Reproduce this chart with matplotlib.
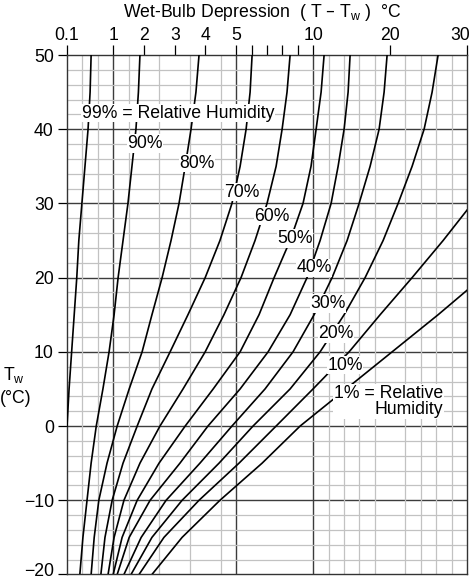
import numpy as np
import matplotlib
matplotlib.use("Agg")
import matplotlib.pyplot as plt
from matplotlib.transforms import ScaledTranslation

plt.rcParams["font.family"] = ["Liberation Sans", "DejaVu Sans"]
plt.rcParams["mathtext.default"] = "regular"

# wet-bulb temperature (degC) where each curve was read
TW = [-20, -15, -10, -5, 0, 5, 10, 15, 20, 25, 30, 35, 40, 45, 50]
TW_99 = [0, 5, 10, 15, 20, 25, 30, 35, 40, 45, 50]
TW_10 = [-20, -15, -10, -5, 0, 5, 10, 15, 20, 25, 29.1]
TW_1 = [-20, -15, -10, -5, 0, 5, 10, 15, 18.3]

# wet-bulb depression T - Tw (degC) along each relative humidity curve
dep_99 = [0.10, 0.14, 0.19, 0.24, 0.29, 0.33, 0.39, 0.45, 0.51, 0.55, 0.57]
dep_90 = [0.35, 0.41, 0.49, 0.57, 0.67, 0.80, 0.92, 1.03, 1.16, 1.32, 1.48, 1.61, 1.74, 1.82, 1.87]
dep_80 = [0.57, 0.63, 0.72, 0.88, 1.13, 1.52, 1.94, 2.26, 2.59, 2.88, 3.14, 3.34, 3.53, 3.69, 3.79]
dep_70 = [0.76, 0.84, 0.98, 1.32, 1.78, 2.26, 2.85, 3.43, 3.99, 4.47, 4.86, 5.25, 5.64, 5.90, 6.03]
dep_60 = [0.90, 1.03, 1.35, 1.87, 2.52, 3.27, 3.99, 4.60, 5.31, 6.22, 7.00, 7.59, 7.98, 8.30, 8.50]
dep_50 = [1.00, 1.29, 1.78, 2.49, 3.34, 4.25, 5.25, 6.48, 7.46, 8.50, 9.34, 9.86, 10.38, 11.03, 11.42]
dep_40 = [1.13, 1.52, 2.20, 3.17, 4.08, 5.25, 7.07, 8.50, 9.60, 10.90, 12.33, 13.24, 14.02, 14.54, 14.80]
dep_30 = [1.35, 1.91, 2.72, 3.82, 4.86, 6.87, 8.69, 10.12, 12.46, 14.41, 15.97, 17.40, 18.57, 19.22, 19.61]
dep_20 = [1.58, 2.26, 3.24, 4.44, 6.09, 8.50, 10.90, 14.02, 16.75, 19.09, 21.04, 22.86, 24.42, 25.46, 26.24]
dep_10 = [1.84, 2.65, 3.79, 5.18, 7.59, 9.99, 14.67, 18.70, 22.86, 26.89, 30.0]
dep_1 = [2.26, 3.24, 4.47, 6.68, 9.15, 14.28, 20.26, 26.24, 30.0]

curves = [
    (TW_99, dep_99), (TW, dep_90), (TW, dep_80), (TW, dep_70), (TW, dep_60),
    (TW, dep_50), (TW, dep_40), (TW, dep_30), (TW, dep_20), (TW_10, dep_10),
    (TW_1, dep_1),
]

# curve labels: text, axes-fraction position, alignment
labels = [
    ("99% = Relative Humidity", 0.2775, 0.888, "center"),
    ("90%", 0.195, 0.830, "center"),
    ("80%", 0.325, 0.792, "center"),
    ("70%", 0.4375, 0.736, "center"),
    ("60%", 0.5125, 0.690, "center"),
    ("50%", 0.57, 0.647, "center"),
    ("40%", 0.6175, 0.590, "center"),
    ("30%", 0.6525, 0.522, "center"),
    ("20%", 0.6725, 0.464, "center"),
    ("10%", 0.695, 0.403, "center"),
    ("1% = Relative\nHumidity", 0.94, 0.333, "right"),
]

# the depression axis is piecewise linear on a uniform grid
XB = [0.0, 0.1, 1.0, 5.0, 10.0, 30.0, 60.0]
UB = [-1 / 3, 0.0, 3.0, 11.0, 16.0, 26.0, 41.0]


def fwd(x):
    return np.interp(x, XB, UB)


def inv(u):
    return np.interp(u, UB, XB)


FS = 12.7

fig = plt.figure(figsize=(4.74, 5.79), dpi=100)
fig.patch.set_facecolor("white")
ax = fig.add_axes([0.1414, 0.0078, 0.8439, 0.8972])
ax.set_xscale("function", functions=(fwd, inv))
ax.set_xlim(0.1, 30)
ax.set_ylim(-20, 50)

# light grid on every cell
ax.set_xticks(inv(np.arange(27)), minor=True)
ax.set_yticks(np.arange(-20, 51, 2), minor=True)
ax.grid(which="minor", color="#c2c2c2", lw=0.9, zorder=0)
ax.tick_params(which="minor", length=0)

# heavier lines
for v in [1, 5, 10]:
    ax.axvline(v, color="#3c3c3c", lw=1.0, zorder=1)
for v in range(-10, 50, 10):
    ax.axhline(v, color="#3c3c3c", lw=1.0, zorder=1)

for tw, dep in curves:
    ax.plot(dep, tw, color="black", lw=1.2, zorder=3)

for txt, fx, fy, ha in labels:
    ax.text(fx, fy, txt, transform=ax.transAxes, ha=ha, va="center",
            multialignment="right" if ha == "right" else "center",
            fontsize=FS, linespacing=0.92, zorder=4,
            bbox=dict(facecolor="white", edgecolor="none", pad=0.5))

xt = [0.1, 1, 2, 3, 4, 5, 6, 7, 8, 9, 10, 20, 30]
xtl = ["0.1", "1", "2", "3", "4", "5", "", "", "", "", "10", "20", "30"]
ax.set_xticks(xt)
ax.set_xticklabels(xtl)
ax.set_yticks(range(-20, 51, 10))
ax.xaxis.tick_top()
ax.tick_params(axis="x", which="major", direction="out", length=7, width=0.9,
               pad=1, labelsize=FS)
ax.tick_params(axis="y", which="major", direction="out", length=6.5, width=0.9,
               pad=3, labelsize=FS)

# keep the edge labels inside the picture
lab30 = ax.get_xticklabels()[-1]
lab30.set_transform(lab30.get_transform() + ScaledTranslation(-5 / 72, 0, fig.dpi_scale_trans))
lab_m20 = ax.get_yticklabels()[0]
lab_m20.set_transform(lab_m20.get_transform() + ScaledTranslation(0, 0.045, fig.dpi_scale_trans))

for s in ax.spines.values():
    s.set_color("#333333")
    s.set_linewidth(1.0)

fig.text(0.553, 0.9715, "Wet-Bulb Depression  ( T – T$_{w}$ )  °C",
         ha="center", va="baseline", fontsize=FS)
fig.text(0.030, 0.352, "T$_{w}$", ha="center", va="center", fontsize=FS)
fig.text(0.034, 0.311, "(°C)", ha="center", va="center", fontsize=FS)

fig.savefig("out.png", dpi=100)
